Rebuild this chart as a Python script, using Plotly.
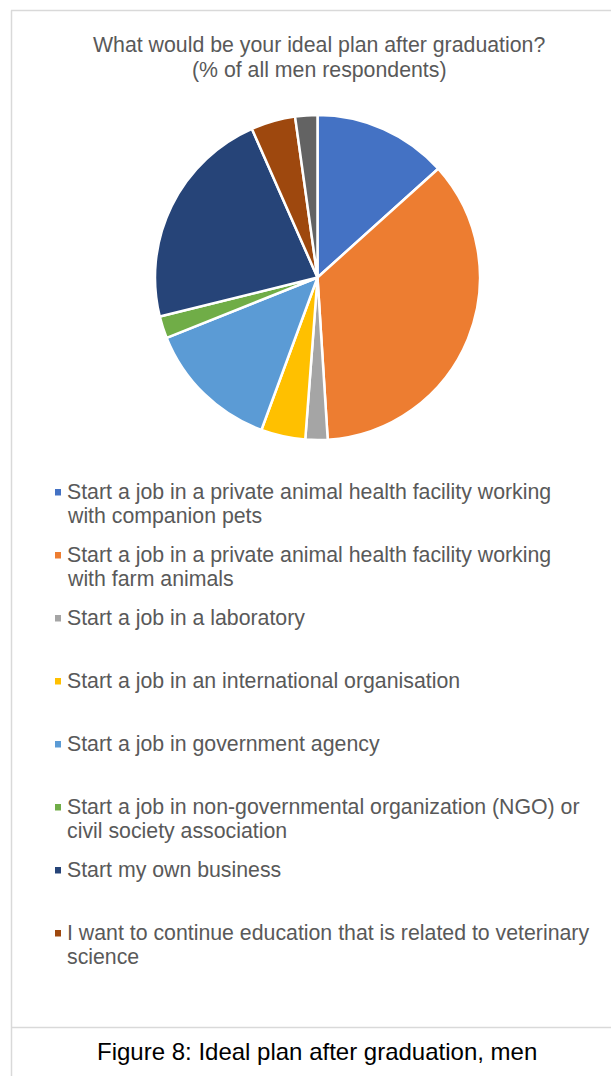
import plotly.graph_objects as go

# Survey answers (share of men respondents, %)
categories = [
    "Start a job in a private animal health facility working<br>with companion pets",
    "Start a job in a private animal health facility working<br>with farm animals",
    "Start a job in a laboratory",
    "Start a job in an international organisation",
    "Start a job in government agency",
    "Start a job in non-governmental organization (NGO) or<br>civil society association",
    "Start my own business",
    "I want to continue education that is related to veterinary<br>science",
    "Other",
]
shares = [13.3, 35.6, 2.2, 4.4, 13.3, 2.2, 22.2, 4.4, 2.2]
colors = ["#4472C4", "#ED7D31", "#A5A5A5", "#FFC000", "#5B9BD5",
          "#70AD47", "#264478", "#9E480E", "#636363"]
legend_count = 8  # the last category does not fit in the legend box

title_lines = ["What would be your ideal plan after graduation?",
               "(% of all men respondents)"]
caption = "Figure 8: Ideal plan after graduation, men"

W, H = 611, 1076
FONT = "Liberation Sans, Arial, sans-serif"
TEXT = "#595959"

def px(x):
    return x / W

def py(y):
    return 1 - y / H

fig = go.Figure()
fig.add_trace(go.Pie(
    labels=categories,
    values=shares,
    sort=False,
    direction="clockwise",
    rotation=0,
    marker=dict(colors=colors, line=dict(color="white", width=2.5)),
    textinfo="none",
    hoverinfo="label+percent",
    domain=dict(x=[px(155), px(480)], y=[py(440), py(115)]),
    showlegend=False,
))

shapes = [
    # chart frame
    dict(type="line", xref="paper", yref="paper", x0=px(11.5), x1=px(11.5), y0=py(10.5), y1=0,
         line=dict(color="#D9D9D9", width=1.5)),
    dict(type="line", xref="paper", yref="paper", x0=px(11), x1=1, y0=py(10.5), y1=py(10.5),
         line=dict(color="#D9D9D9", width=1.5)),
    dict(type="line", xref="paper", yref="paper", x0=px(11), x1=1, y0=py(1027.5), y1=py(1027.5),
         line=dict(color="#D9D9D9", width=1.5)),
]

def label(text, x, y, size, color, anchor="left"):
    return dict(text=text, x=px(x), y=py(y), xref="paper", yref="paper",
                showarrow=False, xanchor=anchor, yanchor="middle",
                font=dict(family=FONT, size=size, color=color))

annotations = [label(t, 319, 45 + 25 * k, 21.3, TEXT, "center")
               for k, t in enumerate(title_lines)]
annotations.append(label(caption, 317, 1051, 24, "black", "center"))

# legend: small colour squares with wrapped labels, one 63px slot per entry
first_y, step, line_h = 492, 63, 24
for i in range(legend_count):
    yc = first_y + step * i
    shapes.append(dict(type="rect", xref="paper", yref="paper",
                       x0=px(55), x1=px(61), y0=py(yc - 3), y1=py(yc + 3.5),
                       fillcolor=colors[i], line=dict(width=0)))
    for k, part in enumerate(categories[i].split("<br>")):
        annotations.append(label(part, 65, yc + k * line_h, 21.3, TEXT))

fig.update_layout(
    width=W, height=H, autosize=False,
    margin=dict(l=0, r=0, t=0, b=0),
    paper_bgcolor="white", plot_bgcolor="white",
    shapes=shapes, annotations=annotations,
)

fig.write_html("out.html")
